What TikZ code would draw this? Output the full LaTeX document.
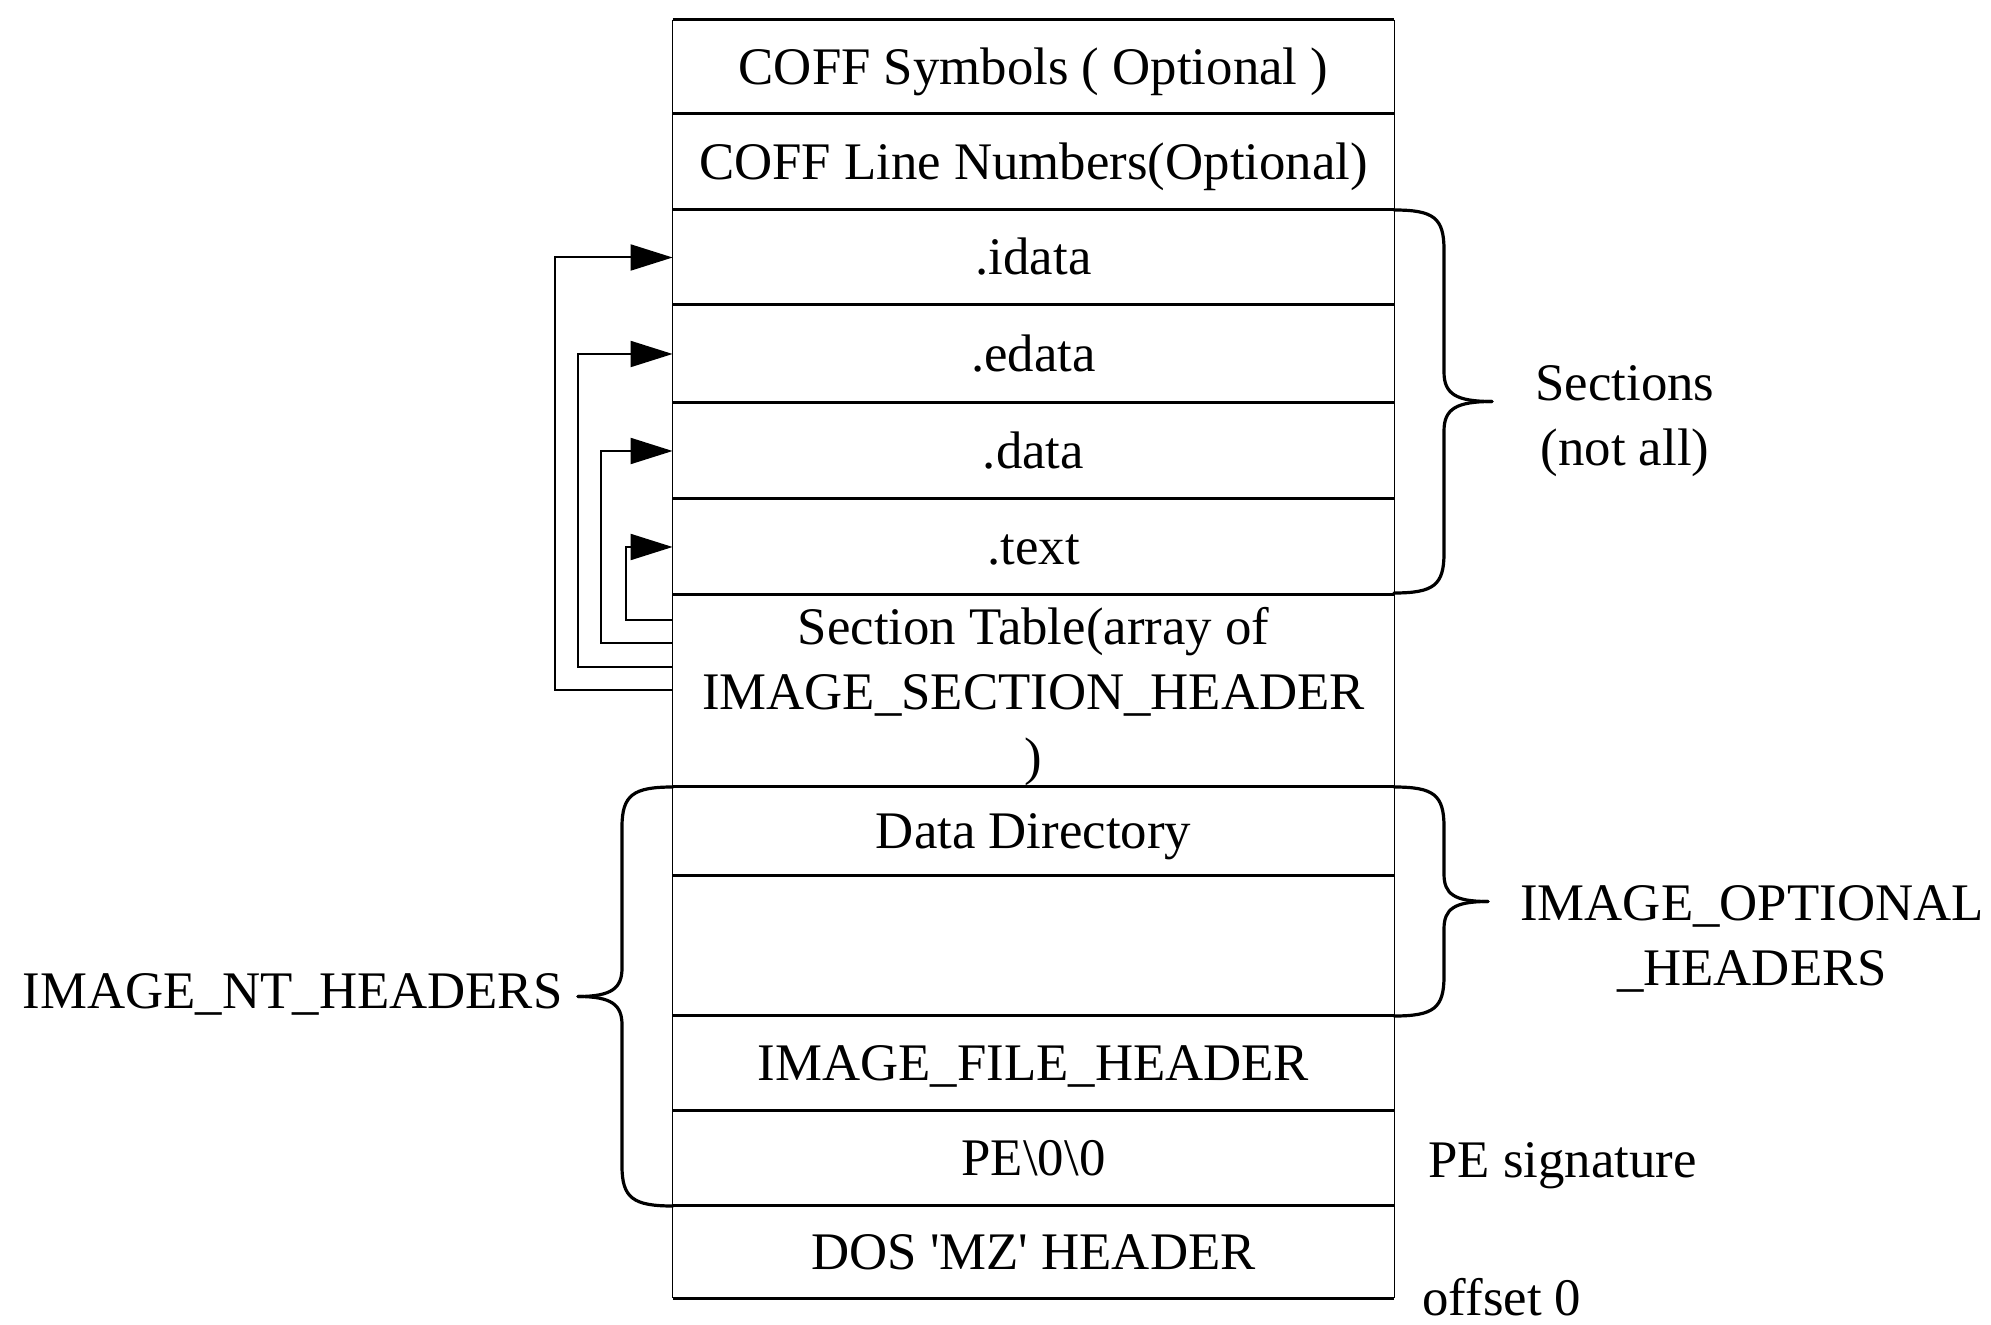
\documentclass[tikz,border=0pt]{standalone}
\usepackage{fontspec}
\setmainfont{Liberation Serif}
\usetikzlibrary{arrows.meta,calc}
\begin{document}
\begin{tikzpicture}[x=0.5pt,y=-0.5pt,
  every node/.style={font=\fontsize{26.4}{32.5}\selectfont, inner sep=0pt, align=center},
  tl/.style={text height=19.8pt, text depth=2.4pt},
  row/.style={minimum width=360.5pt, anchor=center},
  hline/.style={line width=1.5pt},
  vline/.style={line width=0.8pt},
  conn/.style={line width=1pt, -{Triangle[length=21pt,width=13pt]}},
  bracepath/.style={line width=1.6pt, line cap=round, line join=round}]
\useasboundingbox (0,0) rectangle (1991,1325);

% rows of the PE file layout
\node[row, tl, minimum height=47pt]   (r1)  at (1033.5,67)    {COFF Symbols ( Optional )};
\node[row, tl, minimum height=48pt]   (r2)  at (1033.5,162)   {COFF Line Numbers(Optional)};
\node[row, tl, minimum height=47.5pt] (r3)  at (1033.5,257.5) {.idata};
\node[row, tl, minimum height=49pt]   (r4)  at (1033.5,354)   {.edata};
\node[row, tl, minimum height=48pt]   (r5)  at (1033.5,451)   {.data};
\node[row, tl, minimum height=48pt]   (r6)  at (1033.5,547)   {.text};
\node[row, text depth=0.5pt, minimum height=96pt] (r7) at (1033.5,691) {Section Table(array of\\IMAGE\_SECTION\_HEADER\\)};
\node[row, tl, minimum height=44.5pt] (r8)  at (1033.5,831.5) {Data Directory};
\node[row, minimum height=70pt]       (r9)  at (1033.5,946)   {};
\node[row, tl, minimum height=47.5pt] (r10) at (1033.5,1063.5){IMAGE\_FILE\_HEADER};
\node[row, tl, minimum height=47.5pt] (r11) at (1033.5,1158.5){PE\textbackslash0\textbackslash0};
\node[row, tl, minimum height=46pt]   (r12) at (1033.5,1252)  {DOS \textquotesingle MZ\textquotesingle\ HEADER};

% outline
\foreach \r in {r1,r2,r3,r4,r5,r6,r7,r8,r9,r10,r11,r12}
  \draw[hline] (\r.north west) -- (\r.north east);
\draw[hline] (r12.south west) -- (r12.south east);
\draw[vline] (r1.north west) -- (r12.south west);
\draw[vline] (r1.north east) -- (r12.south east);

% section table pointers
\draw[conn] ([yshift=35.5pt]r7.west) -| ([xshift=-23.5pt]r6.west) -- (r6.west);
\draw[conn] ([yshift=24pt]r7.west)   -| ([xshift=-36pt]r5.west)   -- (r5.west);
\draw[conn] ([yshift=12pt]r7.west)   -| ([xshift=-47.5pt]r4.west) -- (r4.west);
\draw[conn] ([yshift=0.5pt]r7.west)  -| ([xshift=-59pt]r3.west)   -- (r3.west);

% brace: Sections
\draw[bracepath] (1394,210) .. controls (1434,210) and (1444,218) .. (1444,250)
  -- (1444,372) .. controls (1444,394) and (1456,401.5) .. (1492,401.5);
\draw[bracepath] (1394,593) .. controls (1434,593) and (1444,585) .. (1444,553)
  -- (1444,431) .. controls (1444,409) and (1456,401.5) .. (1492,401.5);
\node (seclabel) at (1625,421) {Sections\\(not all)};

% brace: IMAGE_OPTIONAL_HEADERS
\draw[bracepath] (1394,787) .. controls (1434,787) and (1444,795) .. (1444,827)
  -- (1444,874) .. controls (1444,894) and (1454,901.5) .. (1488,901.5);
\draw[bracepath] (1394,1016) .. controls (1434,1016) and (1444,1008) .. (1444,976)
  -- (1444,929) .. controls (1444,909) and (1454,901.5) .. (1488,901.5);
\node (optlabel) at (1752,939) {IMAGE\_OPTIONAL\\\_HEADERS};

% brace: IMAGE_NT_HEADERS
\draw[bracepath] (673,787) .. controls (633,787) and (622,795) .. (622,827)
  -- (622,968) .. controls (622,988) and (612,996.5) .. (578,996.5);
\draw[bracepath] (673,1206) .. controls (633,1206) and (622,1198) .. (622,1166)
  -- (622,1025) .. controls (622,1005) and (612,996.5) .. (578,996.5);
\node[tl, anchor=east] (ntlabel) at (563,991) {IMAGE\_NT\_HEADERS};

% side notes
\node[tl, anchor=west] (pesig) at (1428,1160) {PE signature};
\node[tl, anchor=west] (off0) at (1422,1298) {offset 0};
\end{tikzpicture}
\end{document}
